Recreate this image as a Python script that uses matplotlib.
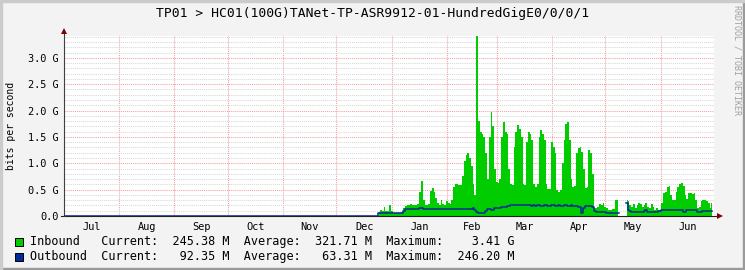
import numpy as np
import matplotlib.pyplot as plt
from matplotlib.patches import Rectangle

plt.rcParams['font.family'] = 'DejaVu Sans Mono'

nan = float('nan')

####################### data: G bits/s, one sample per day (day 0 = Jul 1)
first_day = 177  # nothing but zero before late Dec

inbound = [
    0.08, 0.12, 0.10, 0.17, 0.10, 0.09, 0.20, 0.10, 0.06, 0.05,
    0.06, 0.05, 0.06, 0.07, 0.15, 0.19, 0.20, 0.20, 0.22, 0.20,
    0.20, 0.20, 0.22, 0.45, 0.66, 0.30, 0.20, 0.20, 0.22, 0.48,
    0.53, 0.45, 0.35, 0.25, 0.20, 0.30, 0.22, 0.20, 0.28, 0.25,
    0.22, 0.30, 0.55, 0.60, 0.60, 0.58, 0.58, 0.75, 1.05, 1.15,
    1.20, 1.10, 0.95, 0.60, 0.40, 3.41, 1.80, 1.60, 1.55, 1.50,
    1.20, 0.70, 1.50, 1.98, 1.70, 0.90, 0.65, 0.62, 0.70, 1.50,
    1.79, 1.60, 1.55, 0.90, 0.60, 0.58, 1.30, 1.60, 1.73, 1.65,
    1.50, 0.60, 0.58, 1.40, 1.60, 1.55, 1.45, 0.60, 0.55, 0.60,
    1.50, 1.63, 1.55, 1.45, 0.60, 0.52, 0.52, 1.41, 1.30, 1.20,
    0.50, 0.46, 0.50, 1.00, 1.45, 1.75, 1.79, 1.45, 0.70, 0.55,
    0.56, 1.20, 1.29, 1.31, 1.22, 0.90, 0.53, 0.55, 1.25, 1.20,
    0.80, 0.15, 0.15, 0.17, 0.22, 0.20, 0.25, 0.18, 0.15, 0.12,
    0.12, 0.13, 0.14, 0.30, 0.30, nan, nan, nan, nan, 0.30,
    0.28, 0.20, 0.18, 0.22, 0.15, 0.20, 0.25, 0.22, 0.18, 0.20,
    0.25, 0.18, 0.15, 0.22, 0.18, 0.12, 0.15, 0.12, 0.12, 0.25,
    0.43, 0.45, 0.55, 0.57, 0.40, 0.30, 0.30, 0.45, 0.55, 0.60,
    0.62, 0.57, 0.40, 0.33, 0.43, 0.44, 0.42, 0.44, 0.30, 0.15,
    0.18, 0.28, 0.30, 0.30, 0.29, 0.25, 0.15, 0.245]

outbound = [
    0.05, 0.05, 0.06, 0.05, 0.05, 0.06, 0.05, 0.05, 0.05, 0.05,
    0.05, 0.05, 0.05, 0.06, 0.10, 0.13, 0.13, 0.13, 0.13, 0.13,
    0.13, 0.13, 0.13, 0.16, 0.16, 0.14, 0.14, 0.14, 0.14, 0.14,
    0.14, 0.14, 0.14, 0.14, 0.14, 0.14, 0.14, 0.14, 0.14, 0.14,
    0.14, 0.14, 0.14, 0.14, 0.14, 0.14, 0.14, 0.14, 0.14, 0.14,
    0.14, 0.14, 0.14, 0.16, 0.12, 0.08, 0.06, 0.05, 0.05, 0.06,
    0.10, 0.14, 0.13, 0.11, 0.12, 0.15, 0.16, 0.16, 0.16, 0.17,
    0.18, 0.18, 0.19, 0.19, 0.20, 0.20, 0.20, 0.21, 0.21, 0.20,
    0.21, 0.21, 0.20, 0.20, 0.21, 0.20, 0.19, 0.20, 0.19, 0.20,
    0.20, 0.19, 0.19, 0.20, 0.20, 0.19, 0.19, 0.20, 0.20, 0.19,
    0.19, 0.20, 0.19, 0.19, 0.20, 0.20, 0.19, 0.19, 0.20, 0.19,
    0.19, 0.19, 0.18, 0.17, 0.05, 0.15, 0.19, 0.19, 0.19, 0.19,
    0.18, 0.10, 0.08, 0.08, 0.08, 0.08, 0.08, 0.07, 0.05, 0.05,
    0.05, 0.05, 0.06, 0.06, 0.06, nan, nan, nan, nan, 0.25,
    0.11, 0.10, 0.08, 0.08, 0.08, 0.08, 0.08, 0.08, 0.08, 0.10,
    0.11, 0.07, 0.07, 0.07, 0.07, 0.07, 0.07, 0.10, 0.10, 0.11,
    0.11, 0.11, 0.11, 0.11, 0.11, 0.11, 0.12, 0.12, 0.12, 0.12,
    0.12, 0.08, 0.08, 0.11, 0.11, 0.11, 0.11, 0.11, 0.11, 0.08,
    0.08, 0.08, 0.10, 0.10, 0.10, 0.10, 0.10, 0.092]

month_names = ["Jul", "Aug", "Sep", "Oct", "Nov", "Dec",
               "Jan", "Feb", "Mar", "Apr", "May", "Jun"]
month_len = [31, 31, 30, 31, 30, 31, 31, 28, 31, 30, 31, 30]

y_major = [0.0, 0.5, 1.0, 1.5, 2.0, 2.5, 3.0]
y_labels = ["0.0", "0.5 G", "1.0 G", "1.5 G", "2.0 G", "2.5 G", "3.0 G"]

title = "TP01 > HC01(100G)TANet-TP-ASR9912-01-HundredGigE0/0/0/1"
legend_rows = [("Inbound", "#00CC00", 245.38, "M", 321.71, "M", 3.41, "G"),
               ("Outbound", "#002A97", 92.35, "M", 63.31, "M", 246.20, "M")]

########################

W, H = 745, 270
fig = plt.figure(figsize=(W/100, H/100), dpi=100, facecolor='#F3F3F3')
ax = fig.add_axes([64/W, 54/H, 650/W, 180/H])
ax.set_facecolor('white')

days = np.arange(first_day, first_day + len(inbound))
ax.fill_between(days, 0, inbound, color='#00CC00', lw=0, step='mid',
                zorder=2)
out_x = np.concatenate([np.arange(0, first_day), days])
out_y = np.concatenate([np.zeros(first_day), outbound])
ax.plot(out_x, out_y, color='#002A97', lw=1.1, drawstyle='steps-mid',
        zorder=4)

n_days = sum(month_len)
ax.set_xlim(0, n_days)
ax.set_ylim(0, 3.415)

# grid
starts = np.concatenate([[0], np.cumsum(month_len)])
ax.set_xticks(starts[1:-1])
ax.set_xticklabels([])
ax.set_xticks((starts[:-1] + starts[1:]) / 2, minor=True)
ax.set_xticklabels(month_names, minor=True)
ax.set_yticks(y_major)
ax.set_yticklabels(y_labels)
ax.set_yticks(np.arange(0, 3.45, 0.1), minor=True)
ax.yaxis.grid(True, which='minor', color='#D8D8D8', ls=(0, (1, 1)), lw=0.75)
ax.yaxis.grid(True, which='major', color='#F5A0A0', ls=(0, (1, 1)), lw=0.75)
ax.xaxis.grid(True, which='major', color='#F5A0A0', ls=(0, (1, 1)), lw=0.75)
ax.set_axisbelow(True)
ax.tick_params(axis='both', which='both', length=0, labelsize=7.4)
ax.tick_params(axis='y', pad=3.6)
ax.tick_params(axis='x', which='minor', pad=4)
for s in ax.spines.values():
    s.set_visible(False)

# axes with arrows
ax.plot([-3/650, 1+4/650], [0, 0], transform=ax.transAxes, clip_on=False,
        color='#202020', lw=0.8, zorder=3)
ax.plot([0, 0], [0, 1+3/180], transform=ax.transAxes, clip_on=False,
        color='#404040', lw=0.8, zorder=3)
ax.plot([1+6/650], [0], marker='>', ms=4, color='#800000', mew=0,
        transform=ax.transAxes, clip_on=False, zorder=5)
ax.plot([0], [1+5/180], marker='^', ms=4, color='#800000', mew=0,
        transform=ax.transAxes, clip_on=False, zorder=5)

# texts
fig.text(0.5, 1-14/H, title, ha='center', va='center', fontsize=9.4)
fig.text(11/W, 1-126/H, "bits per second", rotation=90,
         ha='center', va='center', fontsize=7)
fig.text(737/W, 1-60/H, "RRDTOOL / TOBI OETIKER", rotation=270,
         ha='center', va='center', fontsize=6, color='#A0A0A0')

for i, (name, col, cur, cu, avg, au, mx, mu) in enumerate(legend_rows):
    yc = 241.5 + 15*i
    fig.patches.append(Rectangle((15/W, 1-(yc+4)/H), 8/W, 8/H,
                                 transform=fig.transFigure, facecolor=col,
                                 edgecolor='black', lw=0.7))
    row = "%-10sCurrent:  %6.2f %s  Average:  %6.2f %s  Maximum:  %6.2f %s" \
          % (name, cur, cu, avg, au, mx, mu)
    fig.text(30/W, 1-yc/H, row, ha='left', va='center', fontsize=8.5)

# frame
fig.patches.append(Rectangle((0, 0), 1, 2/H, transform=fig.transFigure,
                             color='#9A9A9A'))
fig.patches.append(Rectangle((1-2/W, 0), 2/W, 1, transform=fig.transFigure,
                             color='#9A9A9A'))
fig.patches.append(Rectangle((0, 1-2/H), 1, 2/H, transform=fig.transFigure,
                             color='#CBCBCB'))
fig.patches.append(Rectangle((0, 0), 2/W, 1, transform=fig.transFigure,
                             color='#CBCBCB'))

fig.savefig("out.png", dpi=100, facecolor=fig.get_facecolor())
